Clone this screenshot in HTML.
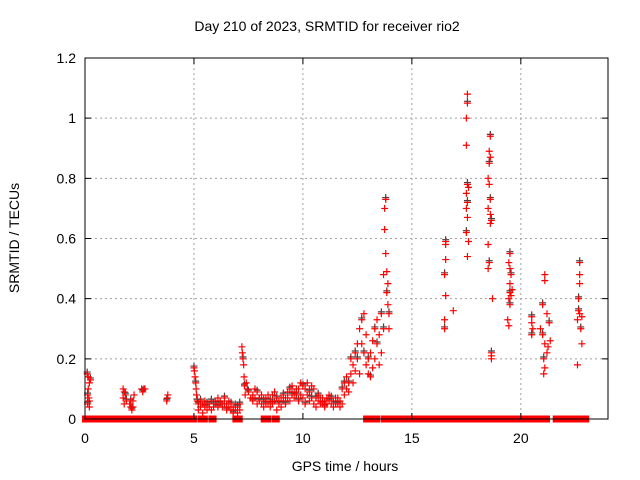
<!DOCTYPE html>
<html><head><meta charset="utf-8"><style>
body{margin:0;background:#fff;}
svg{display:block;font-family:"Liberation Sans",sans-serif;}
</style></head><body>
<svg id="chart" width="640" height="480" xmlns="http://www.w3.org/2000/svg">
<text x="327" y="31" font-size="14" text-anchor="middle">Day 210 of 2023, SRMTID for receiver rio2</text>
<text x="345" y="471" font-size="14" text-anchor="middle">GPS time / hours</text>
<text transform="translate(19,238) rotate(-90)" font-size="14" text-anchor="middle">SRMTID / TECUs</text>
<g id="grid"></g><g id="zeros"></g><g id="marks"></g><g id="axes"></g>
</svg>
<script>
const xTicks=[0,5,10,15,20];
const yTicks=[0,0.2,0.4,0.6,0.8,1,1.2];
const yTickLabels=["0","0.2","0.4","0.6","0.8","1","1.2"];
const zeroStart=[0,5.3,5.8,6.9,8.2,8.7,12.9,13.7,14.1,16.6,17.7,18.8,20.6,21.6,22.5];
const zeroEnd=[5.0,5.5,5.9,7.1,8.4,8.8,13.4,13.9,16.6,17.5,18.6,20.5,21.2,22.4,23.0];
const earlyT=[0.1,0.15,0.2,0.12,0.18,0.2,0.25,0.15,0.2,0.12,1.75,1.8,1.85,1.75,1.8,1.9,2.05,2.1,2.15,2.2,2.25,2.1,2.2,2.6,2.65,2.7,2.75,3.75,3.8,3.78,5.0,5.02,5.05,5.08,5.1,5.12,5.15,7.2,7.22,7.25,7.28,7.3,7.32,7.35];
const earlyV=[.15,.14,.12,.08,.07,.06,.13,.1,.04,.05,.1,.09,.08,.07,.05,.06,.05,.04,.03,.06,.08,.06,.04,.1,.09,.1,.1,.06,.08,.07,.17,.16,.14,.12,.1,.08,.06,.24,.22,.2,.18,.14,.11,.08];
const bandT=[5.2,5.2,5.3,5.3,5.4,5.4,5.5,5.5,5.6,5.6,5.7,5.7,5.8,5.8,5.9,5.9,6.0,6.0,6.1,6.1,6.2,6.2,6.3,6.3,6.4,6.4,6.5,6.5,6.6,6.6,6.7,6.7,6.8,6.8,6.9,6.9,7.0,7.0,7.1,7.1,
7.4,7.45,7.5,7.6,7.7,7.7,7.8,7.8,7.9,7.9,8.0,8.0,8.1,8.1,8.2,8.2,8.3,8.3,8.4,8.4,8.5,8.5,8.6,8.6,8.7,8.7,8.8,8.8,8.9,8.9,9.0,9.0,9.1,9.1,9.2,9.2,9.3,9.3,9.4,9.4,9.5,9.5,9.6,9.6,9.7,9.7,9.8,9.8,9.9,9.9,10.0,10.0,10.1,10.1,10.2,10.2,10.3,10.3,10.4,10.4,10.5,10.5,10.6,10.6,10.7,10.7,10.8,10.8,10.9,10.9,11.0,11.0,11.1,11.1,11.2,11.2,11.3,11.3,11.4,11.4,11.5,11.5,11.6,11.6,11.7,11.7,11.8,11.8,11.9,11.9,12.0,12.0,12.1,12.1,12.2,12.2,12.3,12.3,12.4,12.4,12.5,12.5,12.6,12.6,12.7,12.7,12.8,12.8,12.9,12.9,13.0,13.0,13.1,13.1,13.2,13.2,13.3,13.3,13.4,13.4,13.5,13.5,13.6,13.6,13.7,13.7,13.75,13.75,13.8,13.8,13.85,13.85,13.9,13.9,13.95,13.95];
const bandV=[.05,.03,.04,.06,.05,.02,.04,.06,.03,.05,.05,.04,.06,.03,.04,.05,.05,.06,.04,.07,.06,.05,.05,.04,.07,.05,.05,.03,.04,.06,.05,.03,.04,.02,.05,.03,.04,.02,.03,.05,
.12,.1,.09,.07,.08,.06,.1,.07,.09,.05,.07,.06,.05,.08,.06,.04,.07,.05,.05,.08,.06,.04,.08,.05,.09,.06,.07,.03,.06,.05,.07,.04,.08,.06,.07,.05,.09,.07,.1,.06,.11,.08,.09,.07,.08,.1,.1,.06,.12,.08,.11,.07,.1,.05,.12,.08,.09,.06,.11,.07,.1,.05,.07,.04,.06,.08,.07,.05,.05,.07,.06,.04,.07,.05,.06,.08,.05,.07,.06,.04,.05,.07,.07,.05,.06,.04,.1,.05,.08,.12,.1,.14,.12,.09,.15,.2,.18,.12,.22,.16,.25,.2,.3,.15,.33,.25,.35,.22,.28,.18,.2,.15,.22,.14,.17,.26,.3,.2,.33,.25,.28,.18,.35,.22,.48,.3,.63,.7,.73,.55,.49,.42,.45,.38,.35,.3];
const lateT=[16.55,16.55,16.55,16.5,16.55,16.5,16.5,16.9,17.55,17.55,17.5,17.5,17.55,17.6,17.5,17.55,17.5,17.55,17.5,17.6,17.55,18.6,18.55,18.6,18.55,18.5,18.55,18.6,18.5,18.6,18.65,18.6,18.5,18.55,18.5,18.7,18.65,18.65,18.65,19.5,19.45,19.5,19.55,19.5,19.6,19.5,19.55,19.45,19.5,19.4,19.45,20.5,20.5,20.55,20.5,21.1,21.1,21.0,21.2,20.9,21.0,21.1,21.2,21.05,21.1,21.05,21.3,21.35,21.25,22.7,22.7,22.7,22.65,22.7,22.6,22.75,22.8,22.6,22.65,22.8];
const lateV=[.59,.58,.53,.48,.41,.33,.30,.36,1.08,1.05,1.0,.91,.78,.77,.75,.72,.70,.67,.62,.59,.54,.94,.89,.87,.85,.80,.78,.73,.70,.68,.66,.65,.58,.52,.50,.40,.22,.21,.20,.55,.52,.5,.48,.45,.43,.42,.41,.40,.38,.33,.31,.34,.32,.3,.28,.48,.46,.38,.35,.3,.28,.25,.22,.2,.17,.15,.32,.26,.24,.52,.48,.45,.40,.35,.33,.30,.25,.18,.36,.34];
const NS='http://www.w3.org/2000/svg';
const X0=85,X1=608,Y0=419,Y1=58;
const xs=t=>X0+(t/24)*(X1-X0);
const ys=v=>Y0-(v/1.2)*(Y0-Y1);
function mk(tag,attrs,parent){const e=document.createElementNS(NS,tag);for(const k in attrs)e.setAttribute(k,attrs[k]);parent.appendChild(e);return e;}
const grid=document.getElementById('grid'),axes=document.getElementById('axes'),marks=document.getElementById('marks'),zeros=document.getElementById('zeros');
xTicks.forEach(t=>{
 if(t>0){const g=mk('line',{x1:xs(t),x2:xs(t),y1:Y1,y2:Y0,stroke:'#a0a0a0','stroke-dasharray':'2,3'},grid);
 
 }
 const tk=mk('path',{d:`M${xs(t)},${Y0}v-6M${xs(t)},${Y1}v6`,stroke:'#000'},axes);
 
 
 const lb=mk('text',{x:xs(t),y:Y0+24,'font-size':14,'text-anchor':'middle'},axes);lb.textContent=t;
 
 
});
yTicks.forEach((v,i)=>{
 if(v>0&&v<1.2){const g=mk('line',{x1:X0,x2:X1,y1:ys(v),y2:ys(v),stroke:'#a0a0a0','stroke-dasharray':'2,3'},grid);
 
 }
 const tk=mk('path',{d:`M${X0},${ys(v)}h6M${X1},${ys(v)}h-6`,stroke:'#000'},axes);
 
 
 const lb=mk('text',{x:X0-9,y:ys(v)+5,'font-size':14,'text-anchor':'end'},axes);lb.textContent=yTickLabels[i];
 
 
});
const fr=mk('rect',{x:X0,y:Y1,width:X1-X0,height:Y0-Y1,fill:'none',stroke:'#000'},axes);


zeroStart.forEach((s,i)=>{
 const r=mk('rect',{x:xs(s)-3,y:Y0-3.5,width:xs(zeroEnd[i])-xs(s)+6,height:7,fill:'#f00'},zeros);
 
 
});
function plus(t,v,col){
 const x=xs(t),y=ys(v);
 const p=mk('path',{d:`M${x-3.5},${y}h7M${x},${y-3.5}v7`,stroke:col,'stroke-width':1.2},marks);
 
 
}
[[earlyT,earlyV],[bandT,bandV],[lateT,lateV]].forEach(([T,V])=>{T.forEach((t,i)=>{if(i%3===0)plus(t,V[i]+0.006,'#404040');});});
[[earlyT,earlyV],[bandT,bandV],[lateT,lateV]].forEach(([T,V])=>{T.forEach((t,i)=>plus(t,V[i],'#f00'));});
</script>
</body></html>
